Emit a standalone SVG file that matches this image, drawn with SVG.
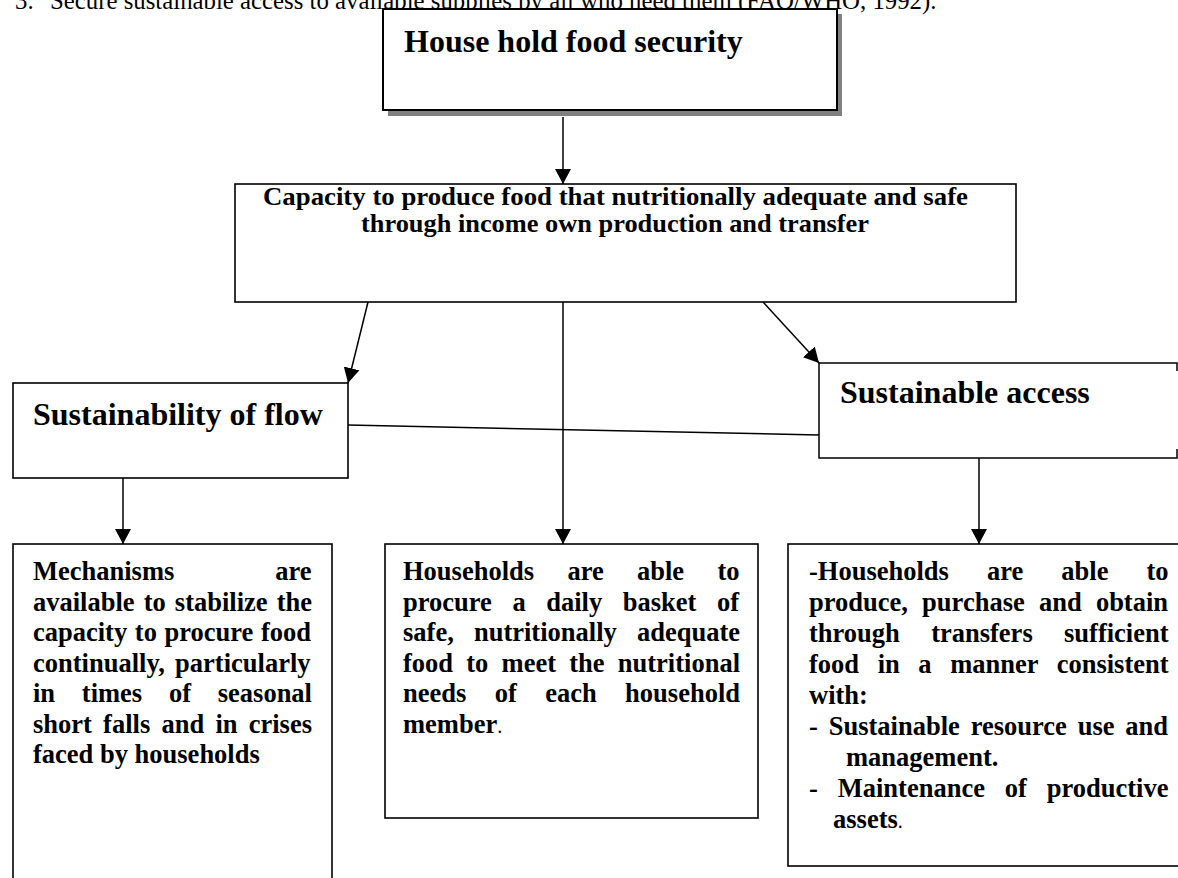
<svg xmlns="http://www.w3.org/2000/svg" width="1178" height="878" viewBox="0 0 1178 878">
<style>
.box{fill:#fff;stroke:#000;stroke-width:1.6}
.t{font-family:"Liberation Serif","Times New Roman",serif;font-weight:bold;fill:#000}
.h{font-size:32px}
.b{font-size:26.5px}
.c{font-size:25px}
.top{font-family:"Liberation Serif","Times New Roman",serif;font-size:24.8px;fill:#000}
.dot{font-weight:normal;font-size:20px}
.ln{stroke:#000;stroke-width:1.5;fill:none}
</style>
<defs>
<marker id="ah" markerUnits="userSpaceOnUse" viewBox="0 0 15 16" refX="15" refY="8" markerWidth="15" markerHeight="16" orient="auto">
<path d="M0,0 L15,8 L0,16 z" fill="#000"/>
</marker>
</defs>
<rect width="1178" height="878" fill="#fff"/>
<text class="top" x="15" y="8.5">3.<tspan x="50">Secure sustainable access to available supplies by all who need them (FAO/WHO, 1992).</tspan></text>

<g id="household">
<rect x="388" y="14" width="454" height="102" fill="#808080"/>
<rect x="383" y="9" width="454" height="101" fill="#fff" stroke="#000" stroke-width="2"/>
<text class="t h" x="404" y="52">House hold food security</text>
</g>

<g id="capacity">
<rect class="box" x="235" y="184" width="781" height="118"/>
<text class="t c" x="263" y="205" textLength="705" lengthAdjust="spacingAndGlyphs">Capacity to produce food that nutritionally adequate and safe</text>
<text class="t c" x="361" y="232" textLength="508" lengthAdjust="spacingAndGlyphs">through income own production and transfer</text>
</g>

<g id="flow">
<rect class="box" x="13" y="383" width="335" height="95"/>
<text class="t h" x="33" y="425">Sustainability of flow</text>
</g>

<g id="access">
<path class="ln" d="M1177,371 V363 H819 V458 H1177 V449"/>
<text class="t h" x="840" y="403">Sustainable access</text>
</g>

<g id="mechanisms">
<rect class="box" x="13" y="544" width="319" height="345"/>
<text class="t b" x="33" y="580" word-spacing="94.27">Mechanisms are</text>
<text class="t b" x="33" y="610.5" word-spacing="2.46">available to stabilize the</text>
<text class="t b" x="33" y="641" word-spacing="1.0">capacity to procure food</text>
<text class="t b" x="33" y="671.5" word-spacing="3.67">continually, particularly</text>
<text class="t b" x="33" y="702" word-spacing="20.12">in times of seasonal</text>
<text class="t b" x="33" y="732.5" word-spacing="4.6">short falls and in crises</text>
<text class="t b" x="33" y="763">faced by households</text>
</g>

<g id="procure">
<rect class="box" x="385" y="544" width="373" height="274"/>
<text class="t b" x="403" y="580" word-spacing="26.7">Households are able to</text>
<text class="t b" x="403" y="610.5" word-spacing="13.95">procure a daily basket of</text>
<text class="t b" x="403" y="641" word-spacing="13.54">safe, nutritionally adequate</text>
<text class="t b" x="403" y="671.5" word-spacing="6.6">food to meet the nutritional</text>
<text class="t b" x="403" y="702" word-spacing="21.78">needs of each household</text>
<text class="t b" x="403" y="732.5">member<tspan class="dot">.</tspan></text>
</g>

<g id="produce">
<rect class="box" x="788" y="544" width="400" height="322"/>
<text class="t b" x="809" y="580" word-spacing="31.42">-Households are able to</text>
<text class="t b" x="809" y="611" word-spacing="7.6">produce, purchase and obtain</text>
<text class="t b" x="809" y="642" word-spacing="24.7">through transfers sufficient</text>
<text class="t b" x="809" y="673" word-spacing="11.97">food in a manner consistent</text>
<text class="t b" x="809" y="704">with:</text>
<text class="t b" x="809" y="735" word-spacing="4.24">- Sustainable resource use and</text>
<text class="t b" x="846" y="766">management.</text>
<text class="t b" x="809" y="797" word-spacing="13.27">- Maintenance of productive</text>
<text class="t b" x="833" y="828">assets<tspan class="dot">.</tspan></text>
</g>

<g id="connectors">
<line class="ln" x1="563" y1="117" x2="563" y2="184" marker-end="url(#ah)"/>
<line class="ln" x1="368" y1="302" x2="348" y2="383" marker-end="url(#ah)"/>
<line class="ln" x1="763" y1="302" x2="819" y2="363" marker-end="url(#ah)"/>
<line class="ln" x1="563" y1="302" x2="563" y2="544" marker-end="url(#ah)"/>
<line class="ln" x1="348" y1="425" x2="819" y2="435"/>
<line class="ln" x1="123" y1="478" x2="123" y2="544" marker-end="url(#ah)"/>
<line class="ln" x1="979" y1="458" x2="979" y2="544" marker-end="url(#ah)"/>
</g>
</svg>
